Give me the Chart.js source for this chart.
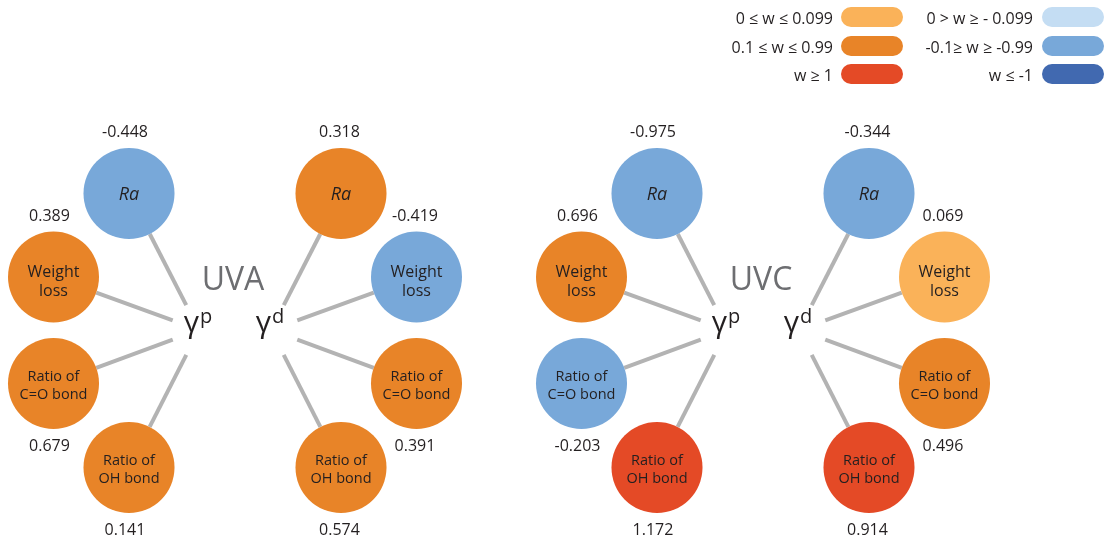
<!DOCTYPE html>
<html><head><meta charset="utf-8">
<script src="https://cdn.jsdelivr.net/npm/chart.js@4"></script>
<style>html,body{margin:0;padding:0;background:#fff;overflow:hidden}#wrap{width:1109px;height:543px;position:relative}</style>
</head><body><div id="wrap"><canvas id="c" width="1109" height="543"></canvas></div>
<script>
// ---------- data ----------
const properties = ['Ra', 'Weight\nloss', 'Ratio of\nC=O bond', 'Ratio of\nOH bond'];
const panelTitles = ['UVA', 'UVC'];
const componentBase = ['γ', 'γ'];
const componentSup = ['p', 'd'];
const uvaPolar = [-0.448, 0.389, 0.679, 0.141];
const uvaDispersive = [0.318, -0.419, 0.391, 0.574];
const uvcPolar = [-0.975, 0.696, -0.203, 1.172];
const uvcDispersive = [-0.344, 0.069, 0.496, 0.914];
// legend entry (colour band) of each circle, as shown in the figure
const uvaPolarBand = [4, 1, 1, 1];
const uvaDispersiveBand = [1, 4, 1, 1];
const uvcPolarBand = [4, 1, 4, 2];
const uvcDispersiveBand = [4, 0, 1, 2];
const legendLabels = ['0 ≤ w ≤ 0.099', '0.1 ≤ w ≤ 0.99', 'w ≥ 1', '0 > w ≥ - 0.099', '-0.1≥ w ≥ -0.99', 'w ≤ -1'];

// ---------- styles / layout ----------
const bandColors = ['#FAB259', '#E88428', '#E44A26', '#C4DDF3', '#78A8D9', '#4169B0'];
const W = 1109, H = 543;
const FONT = "'Open Sans', 'Noto Sans', sans-serif";
const TEXT = '#231F20';
const R = 45.5;
const hubY = 330;
const hubX0 = [199, 271];
const panelShift = 528;
const nodeOffset = [[70, -136.5], [145.5, -53], [145.5, 53.5], [70, 137.5]];

const seriesValues = [[uvaPolar, uvaDispersive], [uvcPolar, uvcDispersive]];
const seriesBands = [[uvaPolarBand, uvaDispersiveBand], [uvcPolarBand, uvcDispersiveBand]];

const datasets = [];
for (let p = 0; p < panelTitles.length; p++) {
  for (let h = 0; h < 2; h++) {
    const side = h === 0 ? -1 : 1;
    const hx = hubX0[h] + p * panelShift;
    const vals = seriesValues[p][h];
    datasets.push({
      type: 'bubble',
      label: panelTitles[p] + ' ' + componentBase[h] + componentSup[h],
      data: vals.map((v, i) => ({ x: hx + side * nodeOffset[i][0], y: hubY + nodeOffset[i][1], r: R })),
      backgroundColor: seriesBands[p][h].map(b => bandColors[b]),
      borderWidth: 0,
      hoverBorderWidth: 0,
      hoverRadius: 0,
      clip: false,
      _hub: { x: hx, y: hubY, side: side, vals: vals, sup: componentSup[h], base: componentBase[h] }
    });
  }
}

const diagramPlugin = {
  id: 'diagram',
  beforeDatasetsDraw(chart) {
    const ctx = chart.ctx, xs = chart.scales.x, ys = chart.scales.y;
    ctx.save();
    ctx.strokeStyle = '#B3B3B3';
    ctx.lineWidth = 4;
    ctx.lineCap = 'butt';
    chart.data.datasets.forEach(ds => {
      const hx = xs.getPixelForValue(ds._hub.x), hy = ys.getPixelForValue(ds._hub.y);
      ds.data.forEach(pt => {
        const cx = xs.getPixelForValue(pt.x), cy = ys.getPixelForValue(pt.y);
        const dx = hx - cx, dy = hy - cy, len = Math.hypot(dx, dy);
        const ux = dx / len, uy = dy / len;
        ctx.beginPath();
        ctx.moveTo(cx + ux * R, cy + uy * R);
        ctx.lineTo(hx - ux * 28, hy - uy * 28);
        ctx.stroke();
      });
    });
    ctx.restore();
  },
  afterDatasetsDraw(chart) {
    const ctx = chart.ctx, xs = chart.scales.x, ys = chart.scales.y;
    ctx.save();
    ctx.textBaseline = 'alphabetic';
    // panel titles
    panelTitles.forEach((t, p) => {
      const cx = (hubX0[0] + hubX0[1]) / 2 - 2 + p * panelShift;
      ctx.font = '32px ' + FONT;
      ctx.fillStyle = '#6D6E71';
      ctx.textAlign = 'center';
      ctx.fillText(t, xs.getPixelForValue(cx), ys.getPixelForValue(290));
    });
    chart.data.datasets.forEach(ds => {
      const hub = ds._hub;
      const hx = xs.getPixelForValue(hub.x), hy = ys.getPixelForValue(hub.y);
      // hub label
      ctx.fillStyle = TEXT;
      ctx.textAlign = 'left';
      ctx.font = '30px ' + FONT;
      const wb = ctx.measureText(hub.base).width;
      ctx.font = '20px ' + FONT;
      const ws = ctx.measureText(hub.sup).width;
      const x0 = hx - 1 - (wb + 1 + ws) / 2;
      ctx.font = '30px ' + FONT;
      ctx.fillText(hub.base, x0, hy + 2);
      ctx.font = '20px ' + FONT;
      ctx.fillText(hub.sup, x0 + wb + 1, hy - 7);
      // nodes
      ds.data.forEach((pt, i) => {
        const cx = xs.getPixelForValue(pt.x), cy = ys.getPixelForValue(pt.y);
        ctx.fillStyle = TEXT;
        ctx.textAlign = 'center';
        const lines = properties[i].split('\n');
        if (lines.length === 1) {
          ctx.font = 'italic 18px ' + FONT;
          ctx.fillText(lines[0], cx, cy + 6);
        } else if (i === 1) {
          ctx.font = '16px ' + FONT;
          ctx.fillText(lines[0], cx, cy + 0);
          ctx.fillText(lines[1], cx, cy + 19);
        } else {
          ctx.font = '14.5px ' + FONT;
          ctx.fillText(lines[0], cx, cy - 3);
          ctx.fillText(lines[1], cx, cy + 15);
        }
        // value label
        ctx.font = '16px ' + FONT;
        const lx = cx + (hub.side < 0 ? -4 : -1.5);
        const v = hub.vals[i].toFixed(3);
        if (i < 2) ctx.fillText(v, lx, cy - R - 11);
        else ctx.fillText(v, lx, cy + R + 22);
      });
    });
    // legend
    const colX = [[833, 841], [1033, 1042]];
    const rowY = [17, 46, 74];
    legendLabels.forEach((lab, k) => {
      const col = Math.floor(k / 3), row = k % 3;
      const [tx, px] = colX[col];
      const y = rowY[row];
      ctx.fillStyle = bandColors[k];
      ctx.beginPath();
      ctx.roundRect(px, y - 10, 62, 20, 10);
      ctx.fill();
      ctx.fillStyle = TEXT;
      ctx.font = '16px ' + FONT;
      ctx.textAlign = 'right';
      ctx.fillText(lab, tx, y + 6.5);
    });
    ctx.restore();
  }
};

new Chart(document.getElementById('c'), {
  type: 'bubble',
  data: { datasets: datasets },
  options: {
    responsive: false,
    animation: false,
    events: [],
    layout: { padding: 0, autoPadding: false },
    plugins: { legend: { display: false }, tooltip: { enabled: false } },
    scales: {
      x: { type: 'linear', min: 0, max: W, display: false },
      y: { type: 'linear', min: 0, max: H, reverse: true, display: false }
    }
  },
  plugins: [diagramPlugin]
});
</script>
</body></html>
